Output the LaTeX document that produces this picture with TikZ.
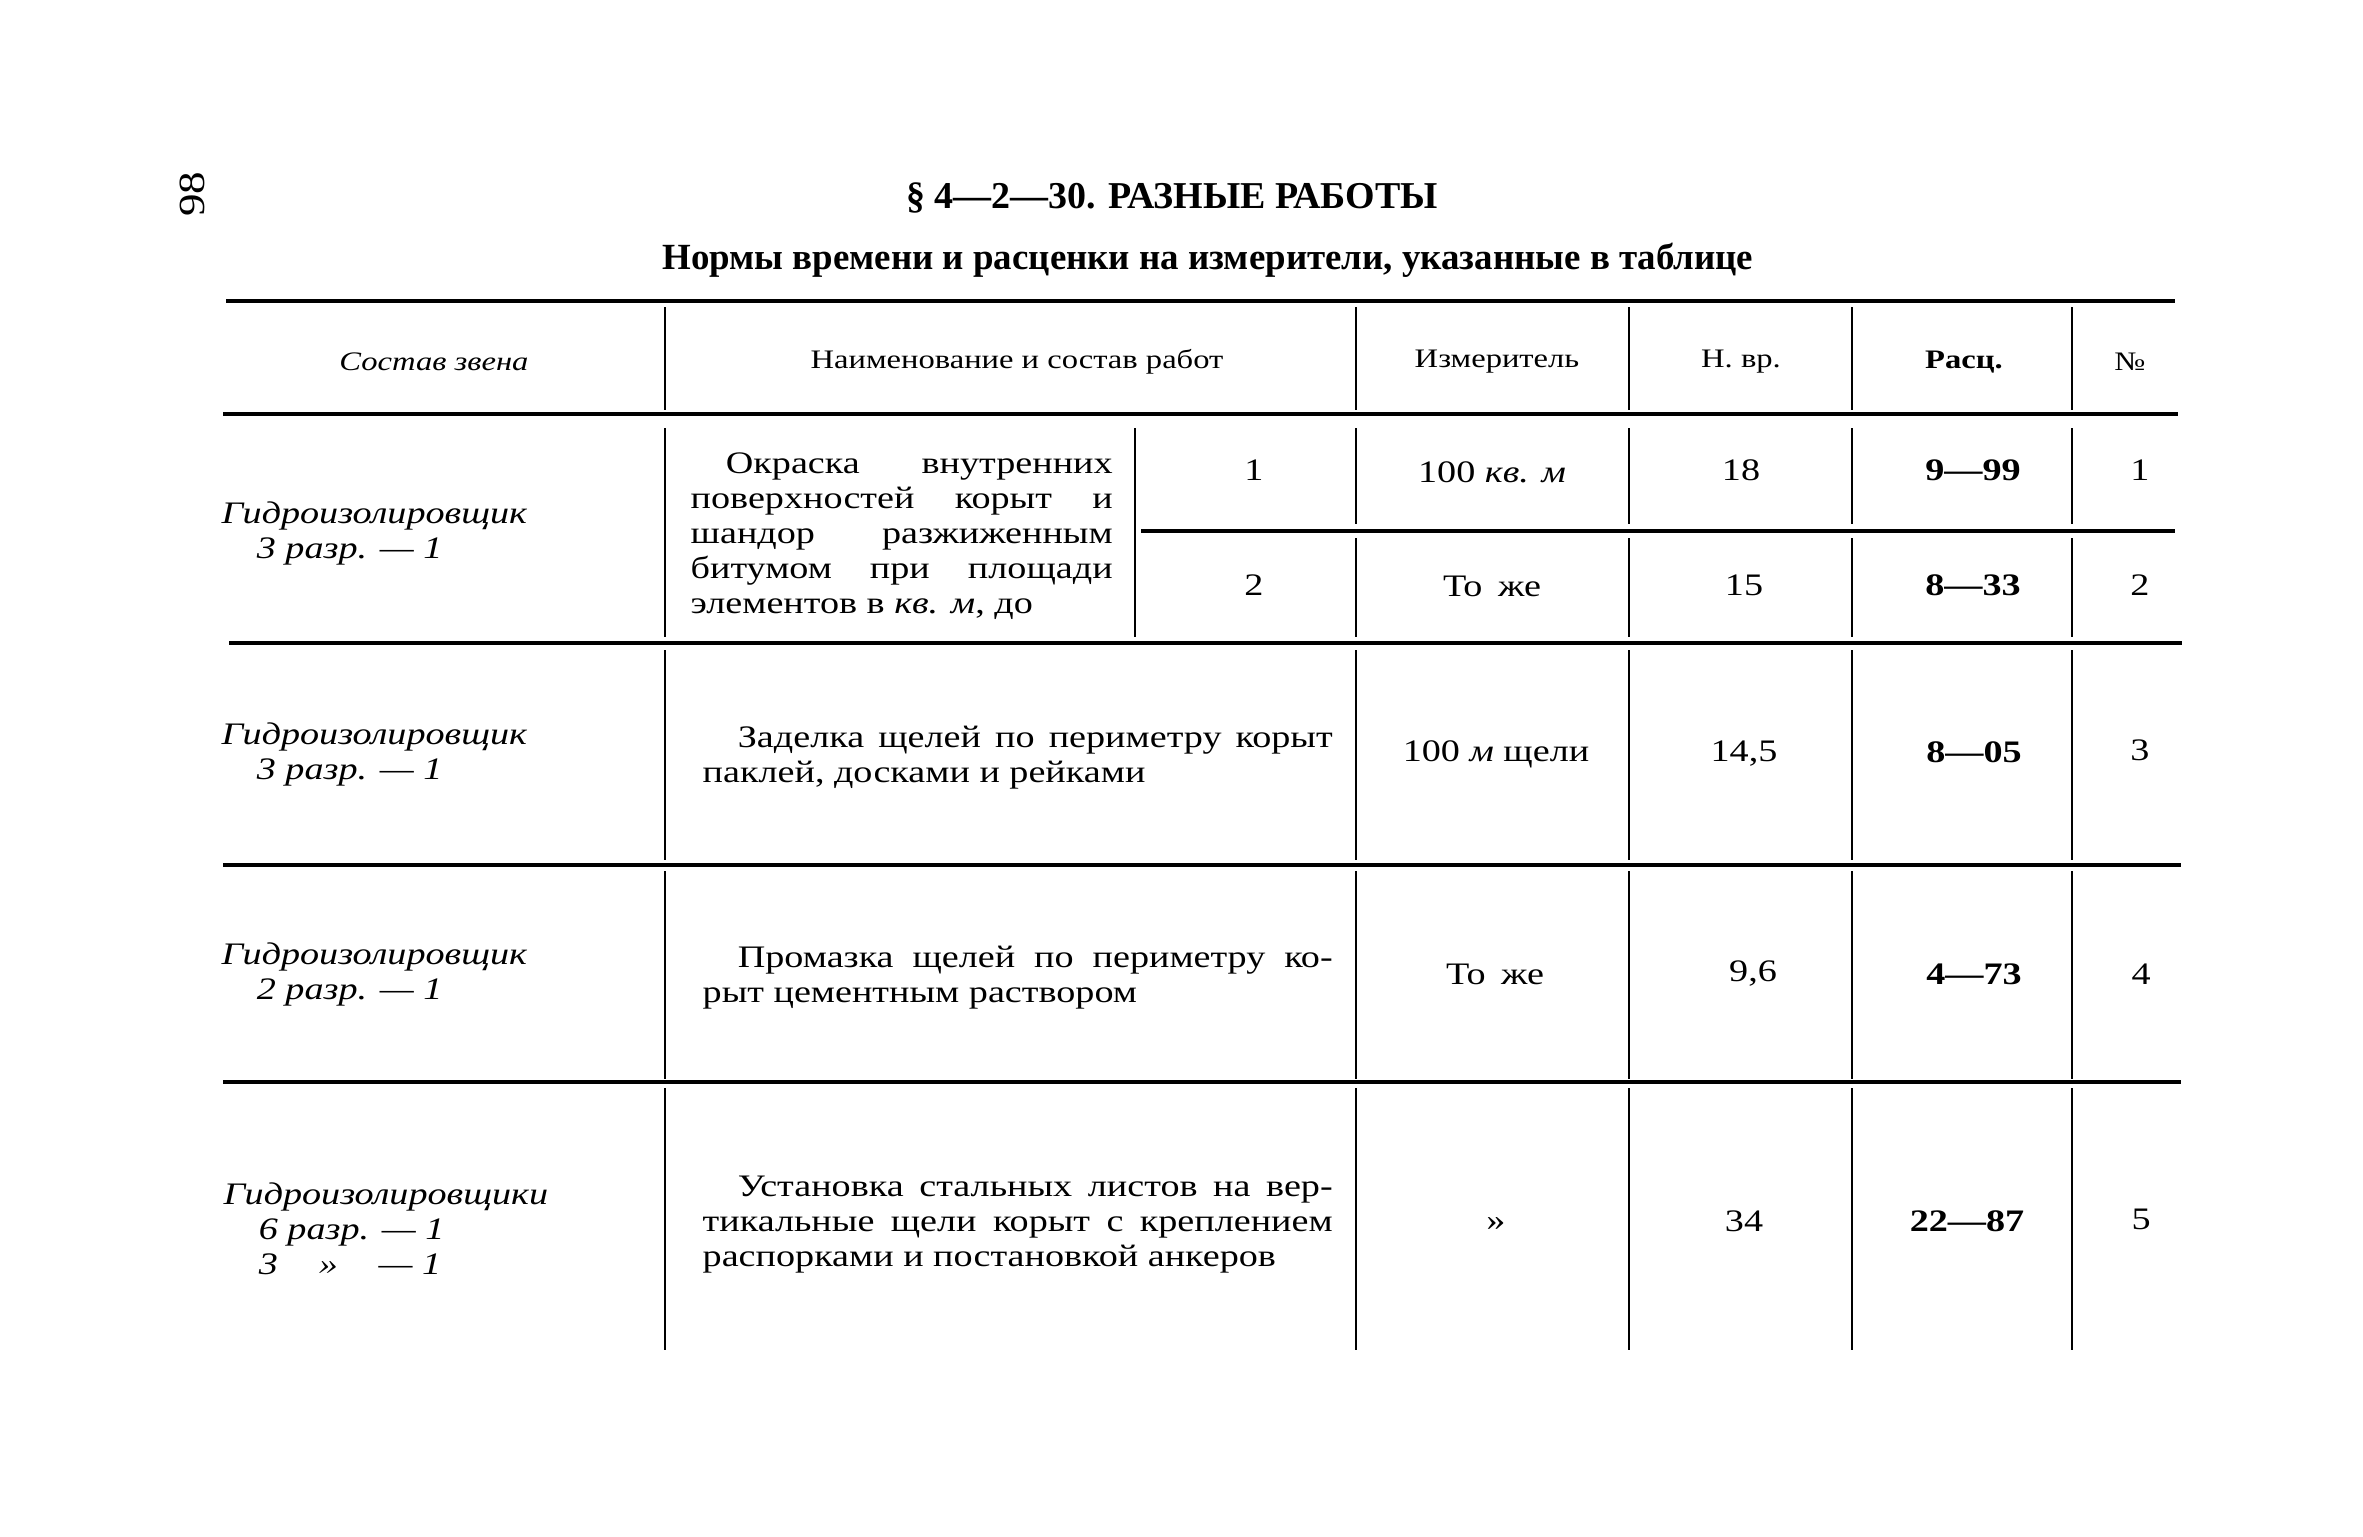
\documentclass[tikz,border=0pt]{standalone}
\usepackage{fontspec}
\setmainfont{Liberation Serif}[FakeStretch=1.22] % the scan's face is wider than Times
\newfontfamily\titlefont{Liberation Serif}
\newcommand{\bodysize}{\fontsize{8.9pt}{9.96pt}\selectfont}
\newcommand{\headsize}{\fontsize{7.6pt}{9pt}\selectfont}
\hyphenpenalty=10000
\tikzset{
x=0.1mm, y=-0.1mm, % one unit is one pixel of the scan, y runs down
hrule/.style={line width=1.1pt}, % thick rules between the rows
vrule/.style={line width=0.7pt}, % thin rules between the columns
head/.style={font=\headsize, inner sep=0pt}, % header cells
cell/.style={font=\bodysize, inner sep=0pt}, % ordinary cells
rate/.style={cell, font=\bodysize\bfseries}, % the prices are bold
crew/.style={cell, font=\bodysize\itshape, align=left, anchor=west}, % who does the job
work/.style={cell, align=justify, anchor=west}, % what the job is
}

\begin{document}
\begin{tikzpicture}
    \path[fill=white] (0,0) rectangle (2363,1536);

    % page number and headings
    \node[font=\fontsize{10.5pt}{12pt}\selectfont, rotate=90, inner sep=0pt] (page) at (192,194) {98};
    \node[font=\titlefont\fontsize{10.8pt}{13pt}\selectfont\bfseries, inner sep=0pt] (title) at (1172,198) {§ 4—2—30. РАЗНЫЕ РАБОТЫ};
    \node[font=\titlefont\fontsize{10.5pt}{13pt}\selectfont\bfseries, inner sep=0pt] (subtitle) at (1208,260) {Нормы времени и расценки на измерители, указанные в таблице};

    % rules
    \draw[hrule] (226,301) -- (2175,301);
    \draw[hrule] (223,414) -- (2178,414);
    \draw[hrule] (1141,531) -- (2175,531);
    \draw[hrule] (229,643) -- (2182,643);
    \draw[hrule] (223,865) -- (2181,865);
    \draw[hrule] (223,1082) -- (2181,1082);
    \foreach \top/\bot in {307/410, 428/637, 650/860, 871/1079, 1088/1350}
        \draw[vrule] (665,\top) -- (665,\bot);
    \draw[vrule] (1135,428) -- (1135,637);
    \foreach \top/\bot in {307/410, 428/524, 538/637, 650/860, 871/1079, 1088/1350}
        \foreach \xx in {1356,1629,1852,2072}
            \draw[vrule] (\xx,\top) -- (\xx,\bot);

    % header
    \node[head, font=\headsize\itshape] (h-crew) at (434,362) {Состав звена};
    \node[head] (h-work) at (1017,362) {Наименование и состав работ};
    \node[head] (h-unit) at (1497,362) {Измеритель};
    \node[head] (h-norm) at (1741,362) {Н. вр.};
    \node[head, font=\headsize\bfseries] (h-rate) at (1964,362) {Расц.};
    \node[head] (h-no) at (2130,362) {№};

    % rows 1 and 2
    \node[crew] (crew1) at (221,533) {Гидроизолировщик\\\hspace*{10pt}3 разр. — 1};
    \node[work, text width=42.2mm] (work1) at (690,536) {\hspace*{10pt}Окраска внутренних\linebreak поверхностей корыт и\linebreak шандор разжиженным\linebreak битумом при площади\linebreak элементов в \textit{кв. м}, до};
    \node[cell] (size1) at (1254,470) {1};
    \node[cell] (size2) at (1254,585) {2};
    \node[cell] (unit1) at (1492,472) {100 \textit{кв. м}};
    \node[cell] (unit2) at (1492,586) {То\enspace же};
    \node[cell] (norm1) at (1741,470) {18};
    \node[cell] (norm2) at (1744,585) {15};
    \node[rate] (rate1) at (1973,470) {9—99};
    \node[rate] (rate2) at (1973,585) {8—33};
    \node[cell] (no1) at (2140,470) {1};
    \node[cell] (no2) at (2140,585) {2};

    % row 3
    \node[crew] (crew3) at (221,754) {Гидроизолировщик\\\hspace*{10pt}3 разр. — 1};
    \node[work, text width=63mm] (work3) at (702,758) {\hspace*{10pt}Заделка щелей по периметру корыт\linebreak паклей, досками и рейками};
    \node[cell] (unit3) at (1496,754) {100 \textit{м} щели};
    \node[cell] (norm3) at (1744,754) {14,5};
    \node[rate] (rate3) at (1974,752) {8—05};
    \node[cell] (no3) at (2140,750) {3};

    % row 4
    \node[crew] (crew4) at (221,974) {Гидроизолировщик\\\hspace*{10pt}2 разр. — 1};
    \node[work, text width=63mm] (work4) at (702,978) {\hspace*{10pt}Промазка щелей по периметру ко-\linebreak рыт цементным раствором};
    \node[cell] (unit4) at (1495,974) {То\enspace же};
    \node[cell] (norm4) at (1753,974) {9,6};
    \node[rate] (rate4) at (1974,974) {4—73};
    \node[cell] (no4) at (2141,974) {4};

    % row 5
    \node[crew] (crew5) at (223,1229) {Гидроизолировщики\\\hspace*{10pt}6 разр. — 1\\\hspace*{10pt}3 \ooalign{\hphantom{разр.}\cr\hfil»\hfil\cr} — 1};
    \node[work, text width=63mm] (work5) at (702,1225) {\hspace*{10pt}Установка стальных листов на вер-\linebreak тикальные щели корыт с креплением\linebreak распорками и постановкой анкеров};
    \node[cell] (unit5) at (1496,1224) {»};
    \node[cell] (norm5) at (1744,1221) {34};
    \node[rate] (rate5) at (1967,1221) {22—87};
    \node[cell] (no5) at (2141,1219) {5};
\end{tikzpicture}
\end{document}
